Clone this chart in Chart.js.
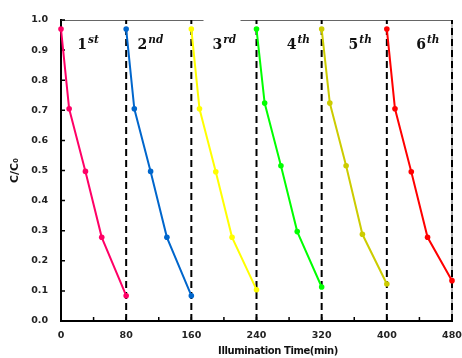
<!DOCTYPE html>
<html lang="en">
<head>
  <meta charset="UTF-8">
  <title>C/C0 cycles</title>
  <script src="https://cdn.jsdelivr.net/npm/chart.js"></script>
  <style>
    * { margin: 0; padding: 0; box-sizing: border-box; }
    body { background: #fff; width: 462px; height: 358px; overflow: hidden; }
    #chart { display: block; }
  </style>
</head>
<body>
  <canvas id="chart" width="462" height="358"></canvas>

  <script>
    // cycle data (time in min, C/C0)
    const cycleNums = ['1', '2', '3', '4', '5', '6'];
    const cycleSuffix = ['st', 'nd', 'rd', 'th', 'th', 'th'];
    const cycleColors = ['#FF0066', '#0066CC', '#FFFF00', '#00FF00', '#CCCC00', '#FF0000'];

    const times1 = [0, 10, 30, 50, 80];
    const times2 = [80, 90, 110, 130, 160];
    const times3 = [160, 170, 190, 210, 240];
    const times4 = [240, 250, 270, 290, 320];
    const times5 = [320, 330, 350, 370, 400];
    const times6 = [400, 410, 430, 450, 480];

    const ratio1 = [0.97, 0.705, 0.497, 0.278, 0.084];
    const ratio2 = [0.97, 0.705, 0.497, 0.278, 0.084];
    const ratio3 = [0.97, 0.705, 0.496, 0.278, 0.104];
    const ratio4 = [0.97, 0.724, 0.516, 0.297, 0.113];
    const ratio5 = [0.97, 0.724, 0.516, 0.288, 0.123];
    const ratio6 = [0.97, 0.705, 0.496, 0.278, 0.134];

    const dividers = [80, 160, 240, 320, 400, 480];

    const xTitle = 'Illumination Time(min)';
    const yTitle = 'C/C\u2080';

    const allTimes = [times1, times2, times3, times4, times5, times6];
    const allRatios = [ratio1, ratio2, ratio3, ratio4, ratio5, ratio6];

    const tickFont = { family: 'DejaVu Sans', weight: 'bold', size: 9.5 };

    const datasets = [];
    dividers.forEach(d => {
      datasets.push({
        data: [{ x: d, y: 0 }, { x: d, y: 1 }],
        borderColor: '#000',
        borderWidth: 2,
        borderDash: [7, 4],
        pointRadius: 0,
        order: 10,
        clip: false
      });
    });
    allTimes.forEach((t, i) => {
      datasets.push({
        label: cycleNums[i] + cycleSuffix[i],
        data: t.map((x, j) => ({ x: x, y: allRatios[i][j] })),
        borderColor: cycleColors[i],
        backgroundColor: cycleColors[i],
        pointBackgroundColor: cycleColors[i],
        pointBorderColor: cycleColors[i],
        borderWidth: 2,
        pointRadius: 2.8,
        pointBorderWidth: 0,
        tension: 0,
        order: 1,
        clip: false
      });
    });

    // frame, inward ticks, titles and cycle labels
    const decor = {
      id: 'decor',
      beforeDatasetsDraw(chart) {
        const { ctx, chartArea: a } = chart;
        ctx.save();
        ctx.strokeStyle = '#666';
        ctx.lineWidth = 1;
        ctx.beginPath();
        ctx.moveTo(a.left, a.top + 0.5);
        ctx.lineTo(a.right, a.top + 0.5);
        ctx.lineTo(a.right, a.bottom);
        ctx.stroke();

        const xs = chart.scales.x, ys = chart.scales.y;
        ctx.strokeStyle = '#000';
        ctx.lineWidth = 1.5;
        ctx.beginPath();
        ys.ticks.forEach(t => {
          if (t.value <= 0) return;
          const py = ys.getPixelForValue(t.value);
          ctx.moveTo(a.left, py);
          ctx.lineTo(a.left + 4, py);
        });
        xs.ticks.forEach(t => {
          if (t.value <= 0) return;
          const px = xs.getPixelForValue(t.value);
          ctx.moveTo(px, a.bottom);
          ctx.lineTo(px, a.bottom - 4);
        });
        ctx.stroke();
        ctx.restore();
      },
      afterDatasetsDraw(chart) {
        const { ctx, chartArea: a } = chart;
        const xs = chart.scales.x, ys = chart.scales.y;
        ctx.save();
        ctx.fillStyle = '#111';

        // axis titles
        ctx.textAlign = 'center';
        ctx.textBaseline = 'middle';
        ctx.font = 'bold 10px "DejaVu Sans"';
        ctx.letterSpacing = '-0.4px';
        ctx.fillText(xTitle, a.left + (a.right - a.left) * 0.555, 351);
        ctx.letterSpacing = '0px';
        ctx.font = 'bold 11px "DejaVu Sans"';
        ctx.save();
        ctx.translate(15, (a.top + a.bottom) / 2);
        ctx.rotate(-Math.PI / 2);
        ctx.fillText(yTitle, 0, 0);
        ctx.restore();

        // cycle labels
        const labelAt = [20, 94, 186, 277, 353, 436];
        ctx.textAlign = 'left';
        ctx.textBaseline = 'alphabetic';
        cycleNums.forEach((n, i) => {
          const px = xs.getPixelForValue(labelAt[i]);
          const py = ys.getPixelForValue(0.905);
          if (i === 2) {
            ctx.fillStyle = '#fff';
            ctx.fillRect(px - 9, a.top - 3, 37, 6);
            ctx.fillStyle = '#111';
          }
          ctx.font = 'bold 14px "DejaVu Serif"';
          ctx.fillText(n, px, py);
          const w = ctx.measureText(n).width;
          ctx.font = 'italic bold 10.5px "DejaVu Serif"';
          ctx.fillText(cycleSuffix[i], px + w + 1, py - 6);
        });
        ctx.restore();
      }
    };

    new Chart(document.getElementById('chart'), {
      type: 'line',
      data: { datasets: datasets },
      plugins: [decor],
      options: {
        responsive: false,
        animation: false,
        layout: { padding: { top: 20, right: 0, left: 0, bottom: 0 } },
        plugins: {
          legend: { display: false },
          tooltip: { enabled: false }
        },
        scales: {
          x: {
            type: 'linear',
            min: 0,
            max: 480,
            grid: { display: false, drawTicks: false },
            border: { color: '#000', width: 2 },
            ticks: {
              stepSize: 40,
              padding: 9,
              color: '#222',
              font: tickFont,
              maxRotation: 0,
              autoSkip: false,
              callback: v => (v % 80 === 0 ? String(v) : '')
            },
            afterFit: s => {
              s.height = 37;
              s.paddingLeft = 0;
              s.paddingRight = 10;
            }
          },
          y: {
            min: 0,
            max: 1,
            grid: { display: false, drawTicks: false },
            border: { color: '#000', width: 2 },
            ticks: {
              stepSize: 0.1,
              padding: 13,
              color: '#222',
              font: tickFont,
              callback: v => v.toFixed(1)
            },
            afterFit: s => { s.width = 61; }
          }
        }
      }
    });
  </script>
</body>
</html>
